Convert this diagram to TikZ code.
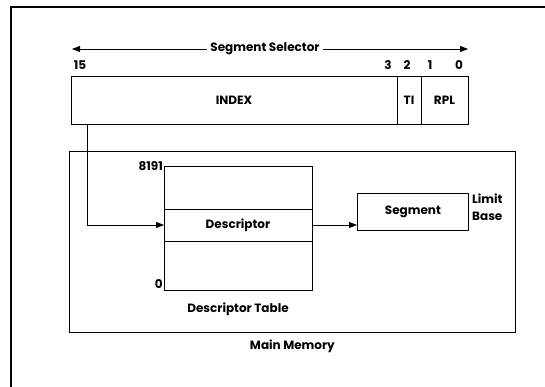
\documentclass[tikz,border=0pt]{standalone}
\usepackage{fontspec}
\setmainfont{Poppins}
\usetikzlibrary{positioning,arrows.meta}

\begin{document}
\begin{tikzpicture}[x=1pt, y=-1pt, font=\fontsize{12}{14}\selectfont\bfseries,
		field/.style = {draw, thick, inner sep=0pt, outer sep=0pt, minimum height=48pt},
		row/.style = {draw, thick, inner sep=0pt, outer sep=0pt, minimum width=148pt},
		bit/.style = {inner sep=1pt, anchor=base},
		tip/.style = {-{Triangle[length=8pt,width=6pt]}, thick}]
				\useasboundingbox (0,0) rectangle (545,387);
				% frame
				\draw[line width=1.5pt] (11,387) -- (11,7) -- (545,7);
				% selector
				\node[field, minimum width=326pt, anchor=north west] (index) at (71,76) {INDEX};
				\node[field, minimum width=24pt, right=0pt of index] (ti) {TI};
				\node[field, minimum width=47pt, right=0pt of ti] (rpl) {RPL};
				\node (sel) at (265,49) {Segment Selector};
				\coordinate (selL) at (72,49);
				\coordinate (selR) at (468,49);
				\draw[tip] (sel.west) -- (selL);
				\draw[tip] (sel.east) -- (selR);
				\node[bit] (b15) at (80,70) {15};
				\node[bit] (b3) at (388,70) {3};
				\node[bit] (b2) at (407,70) {2};
				\node[bit] (b1) at (430,70) {1};
				\node[bit] (b0) at (459,70) {0};
				% main memory
				\node[draw, thick, minimum width=446pt, minimum height=181pt, inner sep=0pt, anchor=north west] (mem) at (69,151) {};
				\node[below=4pt of mem] (memlbl) {Main Memory};
				\node[row, minimum height=43pt, anchor=north west] (top) at (164,166) {};
				\node[row, minimum height=32pt, below=0pt of top] (desc) {Descriptor};
				\node[row, minimum height=49pt, below=0pt of desc] (bot) {};
				\node[left=0pt of top.north west, inner sep=1pt] (max) {8191};
				\node[left=0pt of bot.south west, inner sep=1pt, anchor=south east] (zero) {0};
				\node[below=9pt of bot] (tbl) {Descriptor Table};
				\node[draw, thick, minimum width=111pt, minimum height=37pt, inner sep=0pt, anchor=north west] (seg) at (357,193) {Segment};
				\node[anchor=north west, inner sep=0pt, align=left, font=\fontsize{12}{17}\selectfont\bfseries] (lim) at (472,194) {Limit\\Base};
				% connectors
				\draw[tip] ([xshift=16pt]index.south west) |- (desc.west);
				\draw[tip] (desc.east) -- (desc.east -| seg.west);
\end{tikzpicture}
\end{document}
